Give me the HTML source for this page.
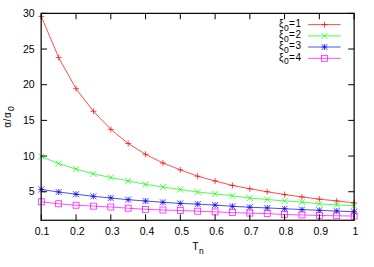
<!DOCTYPE html><html><head><meta charset="utf-8"><title>plot</title><style>html,body{margin:0;padding:0;background:#fff;font-family:"Liberation Sans",sans-serif}svg{display:block}</style></head><body>
<svg width="374" height="267" viewBox="0 0 374 267">
<rect width="374" height="267" fill="#fff"/>
<polyline points="41.30,16.40 58.68,57.60 76.06,88.70 93.43,111.30 110.81,129.40 128.19,143.50 145.57,154.30 162.94,163.00 180.32,169.90 197.70,176.20 215.08,181.00 232.46,185.45 249.83,188.75 267.21,191.75 284.59,194.55 301.97,196.95 319.34,199.15 336.72,200.95 354.10,202.85" fill="none" stroke="#ff0000" stroke-width="0.7"/>
<path d="M38.30 16.40H44.30M41.30 13.40V19.40" stroke="#ff0000" stroke-width="0.7" fill="none"/>
<path d="M55.68 57.60H61.68M58.68 54.60V60.60" stroke="#ff0000" stroke-width="0.7" fill="none"/>
<path d="M73.06 88.70H79.06M76.06 85.70V91.70" stroke="#ff0000" stroke-width="0.7" fill="none"/>
<path d="M90.43 111.30H96.43M93.43 108.30V114.30" stroke="#ff0000" stroke-width="0.7" fill="none"/>
<path d="M107.81 129.40H113.81M110.81 126.40V132.40" stroke="#ff0000" stroke-width="0.7" fill="none"/>
<path d="M125.19 143.50H131.19M128.19 140.50V146.50" stroke="#ff0000" stroke-width="0.7" fill="none"/>
<path d="M142.57 154.30H148.57M145.57 151.30V157.30" stroke="#ff0000" stroke-width="0.7" fill="none"/>
<path d="M159.94 163.00H165.94M162.94 160.00V166.00" stroke="#ff0000" stroke-width="0.7" fill="none"/>
<path d="M177.32 169.90H183.32M180.32 166.90V172.90" stroke="#ff0000" stroke-width="0.7" fill="none"/>
<path d="M194.70 176.20H200.70M197.70 173.20V179.20" stroke="#ff0000" stroke-width="0.7" fill="none"/>
<path d="M212.08 181.00H218.08M215.08 178.00V184.00" stroke="#ff0000" stroke-width="0.7" fill="none"/>
<path d="M229.46 185.45H235.46M232.46 182.45V188.45" stroke="#ff0000" stroke-width="0.7" fill="none"/>
<path d="M246.83 188.75H252.83M249.83 185.75V191.75" stroke="#ff0000" stroke-width="0.7" fill="none"/>
<path d="M264.21 191.75H270.21M267.21 188.75V194.75" stroke="#ff0000" stroke-width="0.7" fill="none"/>
<path d="M281.59 194.55H287.59M284.59 191.55V197.55" stroke="#ff0000" stroke-width="0.7" fill="none"/>
<path d="M298.97 196.95H304.97M301.97 193.95V199.95" stroke="#ff0000" stroke-width="0.7" fill="none"/>
<path d="M316.34 199.15H322.34M319.34 196.15V202.15" stroke="#ff0000" stroke-width="0.7" fill="none"/>
<path d="M333.72 200.95H339.72M336.72 197.95V203.95" stroke="#ff0000" stroke-width="0.7" fill="none"/>
<path d="M351.10 202.85H357.10M354.10 199.85V205.85" stroke="#ff0000" stroke-width="0.7" fill="none"/>
<polyline points="41.30,156.60 58.68,163.60 76.06,169.10 93.43,173.90 110.81,177.50 128.19,180.90 145.57,184.40 162.94,187.00 180.32,189.50 197.70,192.00 215.08,193.80 232.46,195.80 249.83,198.00 267.21,199.50 284.59,200.90 301.97,202.10 319.34,203.90 336.72,204.90 354.10,205.70" fill="none" stroke="#00ff00" stroke-width="0.7"/>
<path d="M38.30 153.60L44.30 159.60M38.30 159.60L44.30 153.60" stroke="#00ff00" stroke-width="0.7" fill="none"/>
<path d="M55.68 160.60L61.68 166.60M55.68 166.60L61.68 160.60" stroke="#00ff00" stroke-width="0.7" fill="none"/>
<path d="M73.06 166.10L79.06 172.10M73.06 172.10L79.06 166.10" stroke="#00ff00" stroke-width="0.7" fill="none"/>
<path d="M90.43 170.90L96.43 176.90M90.43 176.90L96.43 170.90" stroke="#00ff00" stroke-width="0.7" fill="none"/>
<path d="M107.81 174.50L113.81 180.50M107.81 180.50L113.81 174.50" stroke="#00ff00" stroke-width="0.7" fill="none"/>
<path d="M125.19 177.90L131.19 183.90M125.19 183.90L131.19 177.90" stroke="#00ff00" stroke-width="0.7" fill="none"/>
<path d="M142.57 181.40L148.57 187.40M142.57 187.40L148.57 181.40" stroke="#00ff00" stroke-width="0.7" fill="none"/>
<path d="M159.94 184.00L165.94 190.00M159.94 190.00L165.94 184.00" stroke="#00ff00" stroke-width="0.7" fill="none"/>
<path d="M177.32 186.50L183.32 192.50M177.32 192.50L183.32 186.50" stroke="#00ff00" stroke-width="0.7" fill="none"/>
<path d="M194.70 189.00L200.70 195.00M194.70 195.00L200.70 189.00" stroke="#00ff00" stroke-width="0.7" fill="none"/>
<path d="M212.08 190.80L218.08 196.80M212.08 196.80L218.08 190.80" stroke="#00ff00" stroke-width="0.7" fill="none"/>
<path d="M229.46 192.80L235.46 198.80M229.46 198.80L235.46 192.80" stroke="#00ff00" stroke-width="0.7" fill="none"/>
<path d="M246.83 195.00L252.83 201.00M246.83 201.00L252.83 195.00" stroke="#00ff00" stroke-width="0.7" fill="none"/>
<path d="M264.21 196.50L270.21 202.50M264.21 202.50L270.21 196.50" stroke="#00ff00" stroke-width="0.7" fill="none"/>
<path d="M281.59 197.90L287.59 203.90M281.59 203.90L287.59 197.90" stroke="#00ff00" stroke-width="0.7" fill="none"/>
<path d="M298.97 199.10L304.97 205.10M298.97 205.10L304.97 199.10" stroke="#00ff00" stroke-width="0.7" fill="none"/>
<path d="M316.34 200.90L322.34 206.90M316.34 206.90L322.34 200.90" stroke="#00ff00" stroke-width="0.7" fill="none"/>
<path d="M333.72 201.90L339.72 207.90M333.72 207.90L339.72 201.90" stroke="#00ff00" stroke-width="0.7" fill="none"/>
<path d="M351.10 202.70L357.10 208.70M351.10 208.70L357.10 202.70" stroke="#00ff00" stroke-width="0.7" fill="none"/>
<polyline points="41.30,189.50 58.68,192.00 76.06,194.20 93.43,196.30 110.81,198.00 128.19,199.70 145.57,201.00 162.94,202.30 180.32,203.40 197.70,204.10 215.08,205.10 232.46,206.25 249.83,207.25 267.21,207.95 284.59,208.75 301.97,209.55 319.34,210.35 336.72,211.05 354.10,211.75" fill="none" stroke="#0000ff" stroke-width="0.7"/>
<path d="M38.30 189.50H44.30M41.30 186.50V192.50" stroke="#0000ff" stroke-width="0.7" fill="none"/><path d="M38.30 186.50L44.30 192.50M38.30 192.50L44.30 186.50" stroke="#0000ff" stroke-width="0.7" fill="none"/>
<path d="M55.68 192.00H61.68M58.68 189.00V195.00" stroke="#0000ff" stroke-width="0.7" fill="none"/><path d="M55.68 189.00L61.68 195.00M55.68 195.00L61.68 189.00" stroke="#0000ff" stroke-width="0.7" fill="none"/>
<path d="M73.06 194.20H79.06M76.06 191.20V197.20" stroke="#0000ff" stroke-width="0.7" fill="none"/><path d="M73.06 191.20L79.06 197.20M73.06 197.20L79.06 191.20" stroke="#0000ff" stroke-width="0.7" fill="none"/>
<path d="M90.43 196.30H96.43M93.43 193.30V199.30" stroke="#0000ff" stroke-width="0.7" fill="none"/><path d="M90.43 193.30L96.43 199.30M90.43 199.30L96.43 193.30" stroke="#0000ff" stroke-width="0.7" fill="none"/>
<path d="M107.81 198.00H113.81M110.81 195.00V201.00" stroke="#0000ff" stroke-width="0.7" fill="none"/><path d="M107.81 195.00L113.81 201.00M107.81 201.00L113.81 195.00" stroke="#0000ff" stroke-width="0.7" fill="none"/>
<path d="M125.19 199.70H131.19M128.19 196.70V202.70" stroke="#0000ff" stroke-width="0.7" fill="none"/><path d="M125.19 196.70L131.19 202.70M125.19 202.70L131.19 196.70" stroke="#0000ff" stroke-width="0.7" fill="none"/>
<path d="M142.57 201.00H148.57M145.57 198.00V204.00" stroke="#0000ff" stroke-width="0.7" fill="none"/><path d="M142.57 198.00L148.57 204.00M142.57 204.00L148.57 198.00" stroke="#0000ff" stroke-width="0.7" fill="none"/>
<path d="M159.94 202.30H165.94M162.94 199.30V205.30" stroke="#0000ff" stroke-width="0.7" fill="none"/><path d="M159.94 199.30L165.94 205.30M159.94 205.30L165.94 199.30" stroke="#0000ff" stroke-width="0.7" fill="none"/>
<path d="M177.32 203.40H183.32M180.32 200.40V206.40" stroke="#0000ff" stroke-width="0.7" fill="none"/><path d="M177.32 200.40L183.32 206.40M177.32 206.40L183.32 200.40" stroke="#0000ff" stroke-width="0.7" fill="none"/>
<path d="M194.70 204.10H200.70M197.70 201.10V207.10" stroke="#0000ff" stroke-width="0.7" fill="none"/><path d="M194.70 201.10L200.70 207.10M194.70 207.10L200.70 201.10" stroke="#0000ff" stroke-width="0.7" fill="none"/>
<path d="M212.08 205.10H218.08M215.08 202.10V208.10" stroke="#0000ff" stroke-width="0.7" fill="none"/><path d="M212.08 202.10L218.08 208.10M212.08 208.10L218.08 202.10" stroke="#0000ff" stroke-width="0.7" fill="none"/>
<path d="M229.46 206.25H235.46M232.46 203.25V209.25" stroke="#0000ff" stroke-width="0.7" fill="none"/><path d="M229.46 203.25L235.46 209.25M229.46 209.25L235.46 203.25" stroke="#0000ff" stroke-width="0.7" fill="none"/>
<path d="M246.83 207.25H252.83M249.83 204.25V210.25" stroke="#0000ff" stroke-width="0.7" fill="none"/><path d="M246.83 204.25L252.83 210.25M246.83 210.25L252.83 204.25" stroke="#0000ff" stroke-width="0.7" fill="none"/>
<path d="M264.21 207.95H270.21M267.21 204.95V210.95" stroke="#0000ff" stroke-width="0.7" fill="none"/><path d="M264.21 204.95L270.21 210.95M264.21 210.95L270.21 204.95" stroke="#0000ff" stroke-width="0.7" fill="none"/>
<path d="M281.59 208.75H287.59M284.59 205.75V211.75" stroke="#0000ff" stroke-width="0.7" fill="none"/><path d="M281.59 205.75L287.59 211.75M281.59 211.75L287.59 205.75" stroke="#0000ff" stroke-width="0.7" fill="none"/>
<path d="M298.97 209.55H304.97M301.97 206.55V212.55" stroke="#0000ff" stroke-width="0.7" fill="none"/><path d="M298.97 206.55L304.97 212.55M298.97 212.55L304.97 206.55" stroke="#0000ff" stroke-width="0.7" fill="none"/>
<path d="M316.34 210.35H322.34M319.34 207.35V213.35" stroke="#0000ff" stroke-width="0.7" fill="none"/><path d="M316.34 207.35L322.34 213.35M316.34 213.35L322.34 207.35" stroke="#0000ff" stroke-width="0.7" fill="none"/>
<path d="M333.72 211.05H339.72M336.72 208.05V214.05" stroke="#0000ff" stroke-width="0.7" fill="none"/><path d="M333.72 208.05L339.72 214.05M333.72 214.05L339.72 208.05" stroke="#0000ff" stroke-width="0.7" fill="none"/>
<path d="M351.10 211.75H357.10M354.10 208.75V214.75" stroke="#0000ff" stroke-width="0.7" fill="none"/><path d="M351.10 208.75L357.10 214.75M351.10 214.75L357.10 208.75" stroke="#0000ff" stroke-width="0.7" fill="none"/>
<polyline points="41.30,201.80 58.68,203.80 76.06,205.20 93.43,206.10 110.81,207.00 128.19,208.20 145.57,209.30 162.94,210.00 180.32,210.50 197.70,211.20 215.08,211.90 232.46,212.60 249.83,213.10 267.21,213.60 284.59,214.55 301.97,214.95 319.34,215.45 336.72,215.75 354.10,216.05" fill="none" stroke="#ff00ff" stroke-width="0.7"/>
<rect x="38.30" y="198.80" width="6" height="6" stroke="#ff00ff" stroke-width="0.7" fill="none"/>
<rect x="55.68" y="200.80" width="6" height="6" stroke="#ff00ff" stroke-width="0.7" fill="none"/>
<rect x="73.06" y="202.20" width="6" height="6" stroke="#ff00ff" stroke-width="0.7" fill="none"/>
<rect x="90.43" y="203.10" width="6" height="6" stroke="#ff00ff" stroke-width="0.7" fill="none"/>
<rect x="107.81" y="204.00" width="6" height="6" stroke="#ff00ff" stroke-width="0.7" fill="none"/>
<rect x="125.19" y="205.20" width="6" height="6" stroke="#ff00ff" stroke-width="0.7" fill="none"/>
<rect x="142.57" y="206.30" width="6" height="6" stroke="#ff00ff" stroke-width="0.7" fill="none"/>
<rect x="159.94" y="207.00" width="6" height="6" stroke="#ff00ff" stroke-width="0.7" fill="none"/>
<rect x="177.32" y="207.50" width="6" height="6" stroke="#ff00ff" stroke-width="0.7" fill="none"/>
<rect x="194.70" y="208.20" width="6" height="6" stroke="#ff00ff" stroke-width="0.7" fill="none"/>
<rect x="212.08" y="208.90" width="6" height="6" stroke="#ff00ff" stroke-width="0.7" fill="none"/>
<rect x="229.46" y="209.60" width="6" height="6" stroke="#ff00ff" stroke-width="0.7" fill="none"/>
<rect x="246.83" y="210.10" width="6" height="6" stroke="#ff00ff" stroke-width="0.7" fill="none"/>
<rect x="264.21" y="210.60" width="6" height="6" stroke="#ff00ff" stroke-width="0.7" fill="none"/>
<rect x="281.59" y="211.55" width="6" height="6" stroke="#ff00ff" stroke-width="0.7" fill="none"/>
<rect x="298.97" y="211.95" width="6" height="6" stroke="#ff00ff" stroke-width="0.7" fill="none"/>
<rect x="316.34" y="212.45" width="6" height="6" stroke="#ff00ff" stroke-width="0.7" fill="none"/>
<rect x="333.72" y="212.75" width="6" height="6" stroke="#ff00ff" stroke-width="0.7" fill="none"/>
<rect x="351.10" y="213.05" width="6" height="6" stroke="#ff00ff" stroke-width="0.7" fill="none"/>
<path d="M308.2 24.6H340.6" stroke="#ff0000" stroke-width="0.7" fill="none"/>
<path d="M321.50 24.60H327.50M324.50 21.60V27.60" stroke="#ff0000" stroke-width="0.7" fill="none"/>
<path d="M308.2 35.9H340.6" stroke="#00ff00" stroke-width="0.7" fill="none"/>
<path d="M321.50 32.90L327.50 38.90M321.50 38.90L327.50 32.90" stroke="#00ff00" stroke-width="0.7" fill="none"/>
<path d="M308.2 47.0H340.6" stroke="#0000ff" stroke-width="0.7" fill="none"/>
<path d="M321.50 47.00H327.50M324.50 44.00V50.00" stroke="#0000ff" stroke-width="0.7" fill="none"/><path d="M321.50 44.00L327.50 50.00M321.50 50.00L327.50 44.00" stroke="#0000ff" stroke-width="0.7" fill="none"/>
<path d="M308.2 58.3H340.6" stroke="#ff00ff" stroke-width="0.7" fill="none"/>
<rect x="321.50" y="55.30" width="6" height="6" stroke="#ff00ff" stroke-width="0.7" fill="none"/>
<rect x="41.15" y="13.36" width="312.97" height="206.91000000000003" fill="none" stroke="#000" stroke-width="1.2"/>
<path d="M41.30 220.27V214.37M41.30 13.36V19.259999999999998M76.06 220.27V214.37M76.06 13.36V19.259999999999998M110.81 220.27V214.37M110.81 13.36V19.259999999999998M145.57 220.27V214.37M145.57 13.36V19.259999999999998M180.32 220.27V214.37M180.32 13.36V19.259999999999998M215.08 220.27V214.37M215.08 13.36V19.259999999999998M249.83 220.27V214.37M249.83 13.36V19.259999999999998M284.59 220.27V214.37M284.59 13.36V19.259999999999998M319.34 220.27V214.37M319.34 13.36V19.259999999999998M354.10 220.27V214.37M354.10 13.36V19.259999999999998M41.15 13.36H47.05M354.12 13.36H348.22M41.15 49.03H47.05M354.12 49.03H348.22M41.15 84.71H47.05M354.12 84.71H348.22M41.15 120.38H47.05M354.12 120.38H348.22M41.15 156.06H47.05M354.12 156.06H348.22M41.15 191.73H47.05M354.12 191.73H348.22" stroke="#000" stroke-width="1" fill="none"/>
<g font-family="&quot;Liberation Sans&quot;, sans-serif" fill="#000">
<text y="27.3" font-size="10"><tspan x="279">ξ</tspan><tspan x="284" dy="3.3" font-size="8.5">0</tspan><tspan x="289.1" dy="-3.3">=</tspan><tspan x="295.6">1</tspan></text>
<text y="38.3" font-size="10"><tspan x="279">ξ</tspan><tspan x="284" dy="3.3" font-size="8.5">0</tspan><tspan x="289.1" dy="-3.3">=</tspan><tspan x="295.6">2</tspan></text>
<text y="49.3" font-size="10"><tspan x="279">ξ</tspan><tspan x="284" dy="3.3" font-size="8.5">0</tspan><tspan x="289.1" dy="-3.3">=</tspan><tspan x="295.6">3</tspan></text>
<text y="60.7" font-size="10"><tspan x="279">ξ</tspan><tspan x="284" dy="3.3" font-size="8.5">0</tspan><tspan x="289.1" dy="-3.3">=</tspan><tspan x="295.6">4</tspan></text>
<g font-size="10.5" text-anchor="middle">
<text x="42.0" y="235.1">0.1</text>
<text x="77.4" y="235.1">0.2</text>
<text x="112.2" y="235.1">0.3</text>
<text x="147.0" y="235.1">0.4</text>
<text x="181.7" y="235.1">0.5</text>
<text x="216.5" y="235.1">0.6</text>
<text x="251.2" y="235.1">0.7</text>
<text x="286.0" y="235.1">0.8</text>
<text x="320.7" y="235.1">0.9</text>
<text x="355.4" y="235.1">1</text>
</g>
<g font-size="10.5" text-anchor="end">
<text x="34.6" y="17.06">30</text>
<text x="34.6" y="52.73">25</text>
<text x="34.6" y="88.41">20</text>
<text x="34.6" y="124.08">15</text>
<text x="34.6" y="159.76">10</text>
<text x="34.6" y="195.43">5</text>
</g>
<text y="250.3" font-size="10.5"><tspan x="192.3">T</tspan><tspan x="199" dy="3.7" font-size="8.5">n</tspan></text>
</g>
<g transform="translate(11,128.1) rotate(-90)"><text y="0" font-family="&quot;Liberation Sans&quot;, sans-serif" font-size="10" fill="#000"><tspan x="0.3">α</tspan><tspan x="6.5">/</tspan><tspan x="10.2">α</tspan><tspan x="17" dy="3.4" font-size="8.5">0</tspan></text></g>
</svg></body></html>
